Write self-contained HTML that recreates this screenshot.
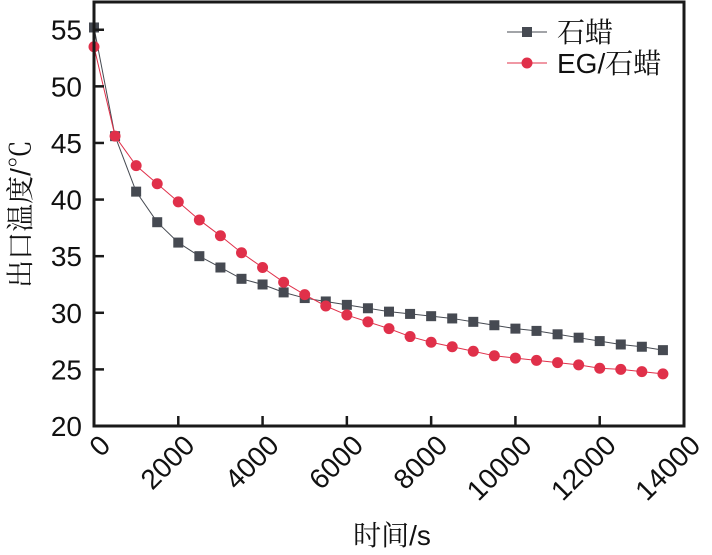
<!DOCTYPE html>
<html><head><meta charset="utf-8"><style>
html,body{margin:0;padding:0;background:#fff;}
svg{display:block;}
text{font-family:"Liberation Sans","Noto Sans CJK SC",sans-serif;fill:#111;}
.cjk{font-family:"Liberation Sans","Noto Serif CJK SC",serif;}
</style></head><body>
<svg id="chart" width="712" height="555" viewBox="0 0 712 555"></svg>
<script>
const timesS = [0,500,1000,1500,2000,2500,3000,3500,4000,4500,5000,5500,6000,6500,7000,7500,8000,8500,9000,9500,10000,10500,11000,11500,12000,12500,13000,13500];
const paraffinTemps = [55.2,45.6,40.7,38.0,36.2,35.0,34.0,33.0,32.5,31.8,31.3,31.0,30.7,30.4,30.1,29.9,29.7,29.5,29.2,28.9,28.6,28.4,28.1,27.8,27.5,27.2,27.0,26.7];
const egParaffinTemps = [53.5,45.6,43.0,41.4,39.8,38.2,36.8,35.3,34.0,32.7,31.6,30.6,29.8,29.2,28.6,27.9,27.4,27.0,26.6,26.2,26.0,25.8,25.6,25.4,25.1,25.0,24.8,24.6];
const xTicks = [0,2000,4000,6000,8000,10000,12000,14000];
const yTicks = [20,25,30,35,40,45,50,55];

const NS="http://www.w3.org/2000/svg";
const svg=document.getElementById('chart');
const L=94,R=684,T=2,B=426;
const xMin=0,xMax=14000,yMin=20,yMax=57.45;
function sx(v){return L+(v-xMin)/(xMax-xMin)*(R-L);}
function sy(v){return B-(v-yMin)/(yMax-yMin)*(B-T);}
function mk(tag,attrs,parent){const e=document.createElementNS(NS,tag);for(const k in attrs)e.setAttribute(k,attrs[k]);(parent||svg).appendChild(e);return e;}

// series
function series(vals,color,shape,name){
  const g=mk('g',{});
  
  
  const pts=vals.map((v,i)=>sx(timesS[i])+','+sy(v)).join(' ');
  const line=mk('polyline',{points:pts,fill:'none',stroke:color,'stroke-width':1},g);
  
  
  vals.forEach((v,i)=>{
    let m;
    if(shape==='square') m=mk('rect',{x:sx(timesS[i])-5,y:sy(v)-5,width:10,height:10,fill:color},g);
    else m=mk('circle',{cx:sx(timesS[i]),cy:sy(v),r:5.5,fill:color},g);
    
    
  });
}
series(paraffinTemps,'#464a52','square','paraffin-series');
series(egParaffinTemps,'#e0304a','circle','eg-paraffin-series');

// frame
const frame=mk('rect',{x:L,y:T,width:R-L,height:B-T,fill:'none',stroke:'#1a1a1a','stroke-width':3});



yTicks.forEach(v=>{
  const t=mk('line',{x1:L,x2:L+10,y1:sy(v),y2:sy(v),stroke:'#1a1a1a','stroke-width':2.5});
  
  
  const lb=mk('text',{x:82,y:sy(v)+10,'text-anchor':'end','font-size':28});
  lb.textContent=v;
  
  
});
xTicks.forEach(v=>{
  const t=mk('line',{x1:sx(v),x2:sx(v),y1:B,y2:B-10,stroke:'#1a1a1a','stroke-width':2.5});
  
  
  const ax=sx(v)+18,ay=447;
  const lb=mk('text',{x:ax,y:ay,'text-anchor':'end','font-size':28,transform:'rotate(-45 '+ax+' '+ay+')'});
  lb.textContent=v;
  
  
});

// axis titles
const xt=mk('text',{x:392,y:545,'text-anchor':'middle','font-size':28,'class':'cjk'});
xt.textContent='时间/s';


const yt=mk('text',{x:0,y:0,'text-anchor':'middle','font-size':28,'class':'cjk',transform:'translate(30 214) rotate(-90)'});
yt.textContent='出口温度/℃';



// legend
const lg=mk('g',{});


[['石蜡','#464a52','square',32],['EG/石蜡','#e0304a','circle',63]].forEach(([lab,c,s,y])=>{
  const e=mk('g',{},lg);
  
  
  mk('line',{x1:507,x2:547,y1:y,y2:y,stroke:c,'stroke-width':1},e);
  if(s==='square') mk('rect',{x:522,y:y-5,width:10,height:10,fill:c},e);
  else mk('circle',{cx:527,cy:y,r:5.5,fill:c},e);
  const t=mk('text',{x:557,y:y+10,'font-size':28,'class':'cjk'},e);
  t.textContent=lab;
});
</script>
</body></html>
